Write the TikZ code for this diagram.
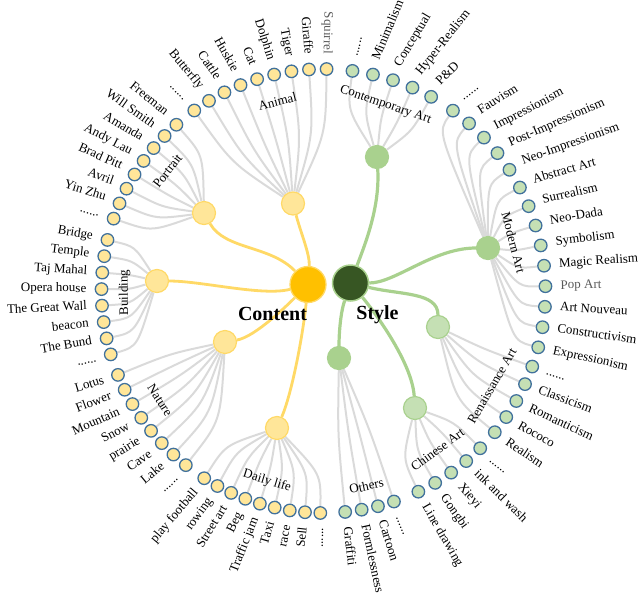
\documentclass[tikz,border=0pt]{standalone}
\usepackage{fontspec}
\setmainfont{Liberation Serif}
\usetikzlibrary{calc}
\pgfdeclarelayer{edgesL}
\pgfdeclarelayer{trunkL}
\pgfsetlayers{edgesL,trunkL,main}
\definecolor{leafborder}{HTML}{41719C}
\definecolor{ylight}{HTML}{FFE699}
\definecolor{yborder}{HTML}{FFD966}
\definecolor{ydark}{HTML}{FFC000}
\definecolor{glight}{HTML}{C5E0B4}
\definecolor{gmid}{HTML}{A9D18E}
\definecolor{gdark}{HTML}{375623}
\definecolor{edgegray}{HTML}{DADADA}
\definecolor{lbgray}{HTML}{595959}
\newcommand\sixdots{......}
\tikzset{
 leafY/.style={circle, inner sep=0pt, minimum size=12.5pt, draw=leafborder, line width=1.3pt, fill=ylight},
 leafG/.style={leafY, fill=glight},
 parY/.style={circle, inner sep=0pt, minimum size=23pt, fill=ylight, draw=yborder, line width=1.2pt},
 parG/.style={parY, fill=gmid, draw=gmid},
 parGl/.style={parY, fill=glight, draw=gmid},
 rootY/.style={circle, inner sep=0pt, minimum size=36pt, fill=ydark, draw=yborder, line width=1.3pt},
 rootG/.style={circle, inner sep=0pt, minimum size=36pt, fill=gdark, draw=gmid, line width=1.5pt},
 lbl/.style={inner sep=0pt, font=\fontsize{13}{15}\selectfont, text height=0.62em, text depth=0pt},
 grp/.style={inner sep=0pt, font=\fontsize{13}{15}\selectfont},
 rootlbl/.style={inner sep=0pt, font=\fontsize{20}{22}\selectfont\bfseries},
 leafedge/.style={draw=edgegray, line width=2pt},
 ytrunk/.style={draw=yborder, line width=2.8pt},
 gtrunk/.style={draw=gmid, line width=3.2pt},
}
% #1 parent, #2 prefix, #3 start angle, #4 step, #5 control radius, #6 leaf style, #7 labels
\newcommand\leafgroup[7]{%
  \foreach \lab [count=\i from 0] in {#7} {
    \pgfmathsetmacro\ang{#3+#4*\i}
    \pgfmathsetmacro\angm{mod(\ang,360)}
    \pgfmathtruncatemacro\isleft{(\angm>89 && \angm<270) ? 1 : 0}
    \node[#6] (#2\i) at ($(cen)+(\ang:222)$) {};
    \ifnum\isleft=1
      \pgfmathsetmacro\dd{\angm-180}
      \pgfmathsetmacro\kk{(\dd<0) ? 0.72 : 0.75}
      \pgfmathsetmacro\rotl{atan2(\kk*sin(\dd),cos(\dd))}
      \node[lbl, anchor=east, rotate=\rotl] (#2t\i) at ($(cen)+(\ang:237)$) {\lab};
    \else
      \pgfmathsetmacro\dd{(\angm>=270) ? \angm-360 : \angm}
      \pgfmathsetmacro\kk{(\dd>0) ? 0.55 : 0.82}
      \pgfmathsetmacro\rotr{atan2(\kk*sin(\dd),cos(\dd))}
      \node[lbl, anchor=west, rotate=\rotr] (#2t\i) at ($(cen)+(\ang:237)$) {\lab};
    \fi
    \begin{pgfonlayer}{edgesL}
      \draw[leafedge] (#1) .. controls ($(cen)+(\ang:#5)$) .. (#2\i);
    \end{pgfonlayer}
  }%
}
\begin{document}
\begin{tikzpicture}[x=1pt,y=1pt]
\useasboundingbox (0,0) rectangle (640,-598);
\coordinate (cen) at (323.5,-291);
% roots
\node[rootY] (C) at (308,-284.5) {};
\node[rootG] (S) at (350.5,-283) {};
\node[rootlbl] (Cl) at (272.5,-313.5) {Content};
\node[rootlbl] (Sl) at (377.5,-315) {Style};
% parents
\node[parY] (A) at (293,-203.5) {};
\node[parY] (P) at (204,-213) {};
\node[parY] (B) at (157,-281) {};
\node[parY] (N) at (225,-342) {};
\node[parY] (D) at (277,-428) {};
\node[parG] (T) at (377,-157) {};
\node[parG] (M) at (488,-248) {};
\node[parGl] (R) at (438,-327) {};
\node[parG] (O) at (339,-358) {};
\node[parGl] (H) at (415,-408) {};
% group labels
\node[grp, rotate=14] (Al) at (277.5,-101.5) {Animal};
\node[grp, rotate=52] (Pl) at (167.5,-171) {Portrait};
\node[grp, rotate=90.6] (Bl) at (124.7,-292.5) {Building};
\node[grp, rotate=-57] (Nl) at (160,-400) {Nature};
\node[grp, rotate=-17] (Dl) at (267,-481) {Daily life};
\node[grp, rotate=12] (Ol) at (366.5,-486) {Others};
\node[grp, rotate=36] (Hl) at (437.5,-449.5) {Chinese Art};
\node[grp, rotate=60] (Rl) at (492,-386) {Renaissance Art};
\node[grp, rotate=-75.5] (Ml) at (513.5,-242.5) {Modern Art};
\node[grp, rotate=-19] (Tl) at (385.5,-105) {Contemporary Art};
% leaves
\leafgroup{A}{a}{89.2}{4.55}{157}{leafY}{\textcolor{lbgray}{Squirrel},Giraffe,Tiger,Dolphin,Cat,Huskie,Cattle,Butterfly,\sixdots}
\leafgroup{P}{p}{131.5}{4.21}{182}{leafY}{Freeman,Will Smith,Amanda,Andy Lau,Brad Pitt,Avril,Yin Zhu,\sixdots}
\leafgroup{B}{b}{166.7}{4.27}{194}{leafY}{Bridge,Temple,Taj Mahal,Opera house,The Great Wall,beacon,The Bund,\sixdots}
\leafgroup{N}{n}{202.2}{4.21}{166}{leafY}{Lotus,Flower,Mountain,Snow,prairie,Cave,Lake,\sixdots}
\leafgroup{D}{d}{237.5}{3.96}{183}{leafY}{play football,rowing,Street art,Beg,Traffic jam,Taxi,race,Sell,\sixdots}
\leafgroup{O}{o}{275.6}{4.3}{145}{leafG}{Graffiti,Formlessness,Cartoon,\sixdots}
\leafgroup{H}{h}{295.3}{4.9}{185}{leafG}{Line drawing,Gongbi,Xieyi,ink and wash,\sixdots}
\leafgroup{R}{r}{320.5}{4.9}{171}{leafG}{Realism,Rococo,Romanticism,Classicism,\sixdots}
\leafgroup{M}{m}{345.3}{5.31}{196}{leafG}{Expressionism,Constructivism,Art Nouveau,\textcolor{lbgray}{Pop Art},Magic Realism,Symbolism,Neo-Dada,Surrealism,Abstract Art,Neo-Impressionism,Post-Impressionism,Impressionism,Fauvism,\sixdots}
\leafgroup{T}{t}{61.0}{5.375}{183}{leafG}{P\&D,Hyper-Realism,Conceptual,Minimalism,\sixdots}
% trunks
\begin{pgfonlayer}{trunkL}
\draw[ytrunk] (C) .. controls +(2,30) and +(8,-30) .. (A);
\draw[ytrunk] (C) .. controls +(-38,39.5) and +(21,-37) .. (P);
\draw[ytrunk] (C) .. controls +(-45,-12) and +(45,0) .. (B);
\draw[ytrunk] (C) .. controls +(-20,-20) and +(30,5) .. (N);
\draw[ytrunk] (C) .. controls +(-5,-50) and +(15,35) .. (D);
\draw[gtrunk] (S) .. controls +(15,40) and +(3,-50) .. (T);
\draw[gtrunk] (S) .. controls +(45,0) and +(-55,0) .. (M);
\draw[gtrunk] (S) .. controls +(50,-12) and +(0,35) .. (R);
\draw[gtrunk] (S) .. controls +(-10,-30) and +(0,25) .. (O);
\draw[gtrunk] (S) .. controls +(25,-30) and +(-3,45) .. (H);
\end{pgfonlayer}
\end{tikzpicture}
\end{document}
